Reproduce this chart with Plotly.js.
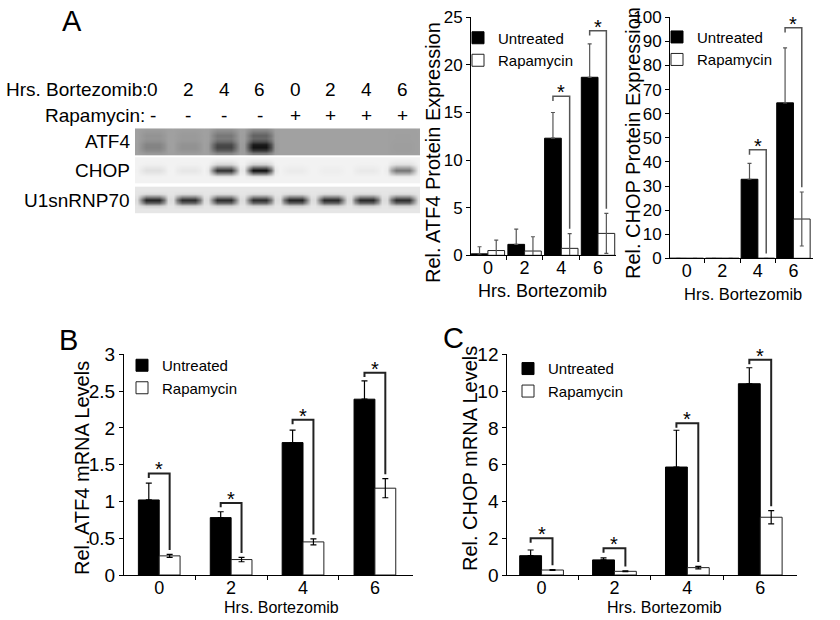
<!DOCTYPE html>
<html>
<head>
<meta charset="utf-8">
<script src="https://cdn.plot.ly/plotly-3.0.1.min.js"></script>
<style>
  html, body { margin: 0; padding: 0; background: #fff; }
  #fig { width: 840px; height: 620px; }
</style>
</head>
<body>
<div id="fig"></div>
<script>
//Data
const hours = ["0", "2", "4", "6"];
const groupNames = ["Untreated", "Rapamycin"];

//A: relative ATF4 protein
const atf4ProtUntreated = [0.15, 1.15, 12.3, 18.7];
const atf4ProtUntreatedErr = [0.75, 1.6, 2.7, 3.5];
const atf4ProtRapa = [0.5, 0.45, 0.73, 2.3];
const atf4ProtRapaErr = [1.1, 1.5, 1.55, 2.1];
const atf4ProtBracket = [null, null, 16.7, 23.6];

//A: relative CHOP protein
const chopProtUntreated = [0, 0, 32.8, 64.5];
const chopProtUntreatedErr = [0, 0, 6.6, 22.8];
const chopProtRapa = [0, 0, 0, 16.3];
const chopProtRapaErr = [0, 0, 0, 11.2];
const chopProtBracket = [null, null, 45, 95.7];

//B: relative ATF4 mRNA
const atf4MrnaUntreated = [1.02, 0.78, 1.8, 2.39];
const atf4MrnaUntreatedErr = [0.23, 0.08, 0.17, 0.25];
const atf4MrnaRapa = [0.26, 0.21, 0.45, 1.18];
const atf4MrnaRapaErr = [0.02, 0.03, 0.04, 0.13];
const atf4MrnaBracket = [1.38, 0.98, 2.11, 2.75];

//C: relative CHOP mRNA
const chopMrnaUntreated = [1.05, 0.82, 5.87, 10.4];
const chopMrnaUntreatedErr = [0.31, 0.11, 2.0, 0.87];
const chopMrnaRapa = [0.27, 0.2, 0.4, 3.14];
const chopMrnaRapaErr = [0.02, 0.02, 0.07, 0.36];
const chopMrnaBracket = [2.0, 1.45, 8.25, 11.7];

//Western blot lanes and band intensities (0 = none, 1 = darkest)
const laneHours = ["0", "2", "4", "6", "0", "2", "4", "6"];
const laneRapa = ["-", "-", "-", "-", "+", "+", "+", "+"];
const blotLabels = ["ATF4", "CHOP", "U1snRNP70"];
const atf4Band = [0.2, 0.1, 0.62, 0.95, 0, 0, 0, 0.02];
const chopBand = [0.08, 0.05, 0.85, 1.0, 0.03, 0.02, 0.04, 0.55];
const u1Band = [0.9, 0.86, 0.86, 0.86, 0.9, 0.88, 0.88, 0.86];

const FONT = "Liberation Sans, Arial, sans-serif";
const W = 840, H = 620;
const px = v => v / W;
const py = v => 1 - v / H;

//Bar charts
const charts = [
  {xa: "x", ya: "y", legend: "legend", un: atf4ProtUntreated, unErr: atf4ProtUntreatedErr,
   ra: atf4ProtRapa, raErr: atf4ProtRapaErr, br: atf4ProtBracket, w: 0.455, yr: 25,
   errColor: "#555", errWidth: 2, brColor: "#555", brWidth: 1.5},
  {xa: "x2", ya: "y2", legend: "legend2", un: chopProtUntreated, unErr: chopProtUntreatedErr,
   ra: chopProtRapa, raErr: chopProtRapaErr, br: chopProtBracket, w: 0.47, yr: 100,
   errColor: "#555", errWidth: 2, brColor: "#555", brWidth: 1.5},
  {xa: "x3", ya: "y3", legend: "legend3", un: atf4MrnaUntreated, unErr: atf4MrnaUntreatedErr,
   ra: atf4MrnaRapa, raErr: atf4MrnaRapaErr, br: atf4MrnaBracket, w: 0.29, yr: 3,
   errColor: "#000", errWidth: 3, brColor: "#222", brWidth: 2},
  {xa: "x4", ya: "y4", legend: "legend4", un: chopMrnaUntreated, unErr: chopMrnaUntreatedErr,
   ra: chopMrnaRapa, raErr: chopMrnaRapaErr, br: chopMrnaBracket, w: 0.3, yr: 12,
   errColor: "#000", errWidth: 3, brColor: "#222", brWidth: 2}
];

const traces = [];
const shapes = [];
const annotations = [];
const pos = hours.map((_, i) => i);

charts.forEach(c => {
  traces.push({
    type: "bar", name: groupNames[0], x: pos, y: c.un, width: c.w, offset: -c.w,
    marker: {color: "#000", line: {color: "#000", width: 1}},
    error_y: {type: "data", symmetric: false, array: c.unErr, arrayminus: c.unErr.map(() => 0),
              color: c.errColor, thickness: 1.2, width: c.errWidth},
    xaxis: c.xa, yaxis: c.ya, legend: c.legend, hoverinfo: "skip"
  });
  traces.push({
    type: "bar", name: groupNames[1], x: pos, y: c.ra, width: c.w, offset: 0,
    marker: {color: "#fff", line: {color: "#222", width: 1}},
    error_y: {type: "data", array: c.raErr, color: c.errColor, thickness: 1.2, width: c.errWidth},
    xaxis: c.xa, yaxis: c.ya, legend: c.legend, hoverinfo: "skip"
  });
  //Significance brackets
  c.br.forEach((top, i) => {
    if (top === null) return;
    const x1 = i - c.w / 2, x2 = i + c.w / 2;
    const lb = Math.max(c.un[i] + c.unErr[i], top - 0.02 * c.yr);
    const rb = c.ra[i] + c.raErr[i] + 0.02 * c.yr;
    shapes.push({
      type: "path", xref: c.xa, yref: c.ya,
      path: `M ${x1},${lb} L ${x1},${top} L ${x2},${top} L ${x2},${rb}`,
      line: {color: c.brColor, width: c.brWidth}
    });
    annotations.push({
      xref: c.xa, yref: c.ya, x: i, y: top, text: "*", showarrow: false,
      yanchor: "middle", yshift: 4, font: {size: 20, color: "#000"}
    });
  });
});

//Western blot strips as heatmaps
function blotStrip(bands, bg, rowProf, colProf, y0, h) {
  const x = [], y = [], z = [];
  bands.forEach((_, i) => colProf.forEach((_, j) => x.push(i + (j + 0.5) / colProf.length)));
  rowProf.forEach((rp, r) => {
    y.push(y0 + (r + 0.5) * h / rowProf.length);
    const row = [];
    bands.forEach(b => colProf.forEach(cp => row.push(bg + (0.95 - bg) * b * rp * cp)));
    z.push(row);
  });
  return {
    type: "heatmap", x: x, y: y, z: z, zmin: 0, zmax: 1, zsmooth: "best",
    colorscale: [[0, "#ffffff"], [1, "#000000"]], showscale: false,
    xaxis: "x5", yaxis: "y5", hoverinfo: "skip", showlegend: false
  };
}
const lanePro = [0.05, 0.6, 1, 1, 1, 1, 0.6, 0.05];
traces.push(blotStrip(atf4Band, 0.37, [0.15, 0.3, 0.45, 0.4, 0.6, 0.95, 1, 0.75, 0.25], lanePro, 0, 26.7));
traces.push(blotStrip(chopBand, 0.05, [0, 0.05, 0.15, 0.6, 1, 0.55, 0.05, 0, 0], lanePro, 29, 26));
traces.push(blotStrip(u1Band, 0.1, [0, 0, 0.05, 0.5, 1, 0.7, 0.1, 0, 0], lanePro, 58.4, 26.6));

//Blot labels
const labelFont = {family: FONT, size: 19, color: "#000"};
annotations.push({xref: "paper", yref: "paper", x: px(149), y: py(90), text: "Hrs. Bortezomib:",
  xanchor: "right", yanchor: "middle", showarrow: false, font: labelFont});
annotations.push({xref: "paper", yref: "paper", x: px(147), y: py(115), text: "Rapamycin:",
  xanchor: "right", yanchor: "middle", showarrow: false, font: labelFont});
laneHours.forEach((h, i) => {
  annotations.push({xref: "x5", yref: "paper", x: i + 0.5, y: py(90), text: h,
    showarrow: false, yanchor: "middle", font: labelFont});
  annotations.push({xref: "x5", yref: "paper", x: i + 0.5, y: py(115), text: laneRapa[i],
    showarrow: false, yanchor: "middle", font: labelFont});
});
[13.3, 42, 71.7].forEach((yy, k) => {
  annotations.push({xref: "paper", yref: "y5", x: px(132), y: yy, text: blotLabels[k],
    xanchor: "right", yanchor: "middle", showarrow: false, font: labelFont});
});

//Panel letters
[["A", 72, 21], ["B", 68, 340], ["C", 453, 338]].forEach(p => {
  annotations.push({xref: "paper", yref: "paper", x: px(p[1]), y: py(p[2]), text: p[0],
    showarrow: false, xanchor: "center", yanchor: "middle", font: {size: 29, color: "#000"}});
});

//Axis titles
const titles = [
  ["Rel. ATF4 Protein Expression", 433, 152, -90, 20],
  ["Rel. CHOP Protein Expression", 633, 143, -90, 20],
  ["Rel. ATF4 mRNA Levels", 82, 468, -90, 20],
  ["Rel. CHOP mRNA Levels", 470, 459, -90, 20],
  ["Hrs. Bortezomib", 542, 291, 0, 18],
  ["Hrs. Bortezomib", 743, 294, 0, 16.5],
  ["Hrs. Bortezomib", 281, 607, 0, 16],
  ["Hrs. Bortezomib", 664, 607, 0, 16]
];
titles.forEach(t => {
  annotations.push({xref: "paper", yref: "paper", x: px(t[1]), y: py(t[2]), text: t[0],
    textangle: t[3], showarrow: false, xanchor: "center", yanchor: "middle",
    font: {size: t[4], color: "#000"}});
});

function xAxis(domain, range, anchor) {
  return {
    domain: domain, range: range, anchor: anchor, tickmode: "array", tickvals: pos, ticktext: hours,
    ticks: "", ticklabelstandoff: -4, showline: true, linecolor: "#000", linewidth: 1,
    showgrid: false, zeroline: false, tickfont: {size: 18, color: "#000"}, fixedrange: true,
    minor: {tickmode: "array", tickvals: [0.5, 1.5, 2.5], ticks: "outside", ticklen: 4, tickcolor: "#000"}
  };
}
function yAxis(domain, range, dtick, anchor, fs) {
  return {
    domain: domain, range: range, dtick: dtick, anchor: anchor, ticks: "outside", ticklen: 4,
    tickcolor: "#000", showline: true, linecolor: "#000", linewidth: 1, showgrid: false,
    zeroline: false, tickfont: {size: fs, color: "#000"}, fixedrange: true
  };
}
function legendAt(textX, top) {
  return {x: px(textX - 40), y: py(top), xanchor: "left", yanchor: "top", bgcolor: "rgba(0,0,0,0)",
          font: {size: 15, color: "#000"}, traceorder: "normal", itemwidth: 30, tracegroupgap: 0};
}

const layout = {
  width: W, height: H,
  margin: {l: 0, r: 0, t: 0, b: 0},
  paper_bgcolor: "#fff", plot_bgcolor: "rgba(0,0,0,0)",
  font: {family: FONT, color: "#000"},
  barmode: "overlay",
  showlegend: true,
  xaxis: xAxis([px(471), px(616)], [-0.46, 3.49], "y"),
  yaxis: yAxis([py(255.3), py(17.3)], [0, 25], 5, "x", 17),
  xaxis2: xAxis([px(670), px(813)], [-0.47, 3.55], "y2"),
  yaxis2: yAxis([py(258.3), py(17.3)], [0, 100], 10, "x2", 17),
  xaxis3: xAxis([px(124), px(413)], [-0.49, 3.53], "y3"),
  yaxis3: yAxis([py(575), py(354.3)], [0, 3], 0.5, "x3", 19),
  xaxis4: xAxis([px(507.3), px(796.7)], [-0.47, 3.5], "y4"),
  yaxis4: yAxis([py(575), py(354.3)], [0, 12], 2, "x4", 19),
  xaxis5: {domain: [px(135), px(420)], range: [0, 8], anchor: "y5", visible: false, fixedrange: true},
  yaxis5: {domain: [py(213.3), py(128.3)], range: [85, 0], anchor: "x5", visible: false, fixedrange: true},
  legend: legendAt(498, 21.5),
  legend2: legendAt(697, 20.7),
  legend3: legendAt(162, 349),
  legend4: legendAt(548, 352.3),
  shapes: shapes,
  annotations: annotations
};

Plotly.newPlot("fig", traces, layout, {displayModeBar: false, staticPlot: true});
</script>
</body>
</html>
